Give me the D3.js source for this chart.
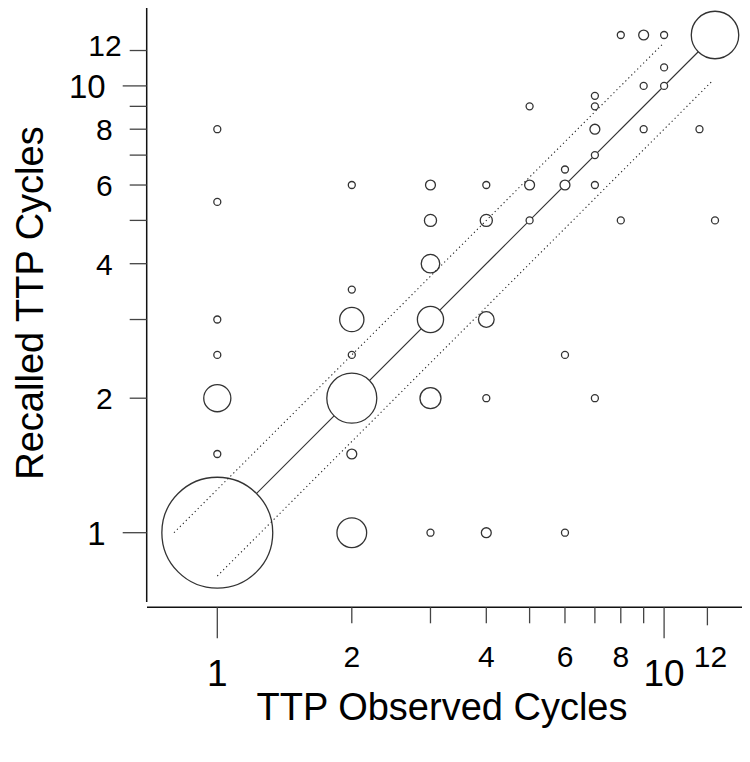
<!DOCTYPE html>
<html>
<head>
<meta charset="utf-8">
<script src="https://cdn.jsdelivr.net/npm/d3@7"></script>
<style>
  html, body { margin: 0; padding: 0; background: #fff; }
  svg { display: block; font-family: "Liberation Sans", Arial, sans-serif; }
</style>
</head>
<body>
<svg id="chart" width="750" height="762"></svg>
<script>
// ---- data ----
const observed = [1,1,1,1,1,1,1, 2,2,2,2,2,2,2, 3,3,3,3,3,3, 4,4,4,4,4, 5,5,5, 6,6,6,6, 7,7,7,7,7,7, 8,8, 9,9,9, 10,10,10, 12, 13,13];
const recalled = [1,1.5,2,2.5,3,5.5,8, 1,1.5,2,2.5,3,3.5,6, 1,2,3,4,5,6, 1,2,3,5,6, 5,6,9, 1,2.5,6,6.5, 2,6,7,8,9,9.5, 5,13, 8,10,13, 10,11,13, 8, 5,13];
const counts   = [251,1,15,1,1,1,1, 18,2,51,1,12,1,1, 1,9,14,7,3,2, 2,1,5,3,1, 1,2,1, 1,1,2,1, 1,1,1,2,1,1, 1,1, 1,1,2, 1,1,1, 1, 1,46];

const xTickValues = [1,2,3,4,5,6,7,8,9,10,12.5];
const xTickLabels = ["1","2","","4","","6","","8","","10","12"];
const yTickValues = [1,2,3,4,5,6,7,8,9,10,12];
const yTickLabels = ["1","2","","4","","6","","8","","10","12"];
const majorTicks = [1,10];

const identityLine = [[1,1],[13,13]];
const upperBand = [[0.8,1],[10,12.5]];
const lowerBand = [[1,0.8],[12.8,10.24]];

const xTitle = "TTP Observed Cycles";
const yTitle = "Recalled TTP Cycles";

// ---- layout ----
const svg = d3.select("#chart");
const perDoubling = 134.5;
const x = d3.scaleLog().domain([1, 13]).range([217.3, 217.3 + perDoubling * Math.log2(13)]);
const y = d3.scaleLog().domain([1, 13]).range([532.7, 532.7 - perDoubling * Math.log2(13)]);
const r = d3.scaleSqrt().domain([0, 1]).range([0, 3.5]);

const xAxisY = 607.3, xAxisX0 = 147, xAxisX1 = 742;
const yAxisX = 146.7, yAxisY0 = 8, yAxisY1 = 602;

// axes lines
svg.append("line").attr("x1", xAxisX0).attr("x2", xAxisX1).attr("y1", xAxisY).attr("y2", xAxisY)
  .attr("stroke", "#111").attr("stroke-width", 1.5);
svg.append("line").attr("x1", yAxisX).attr("x2", yAxisX).attr("y1", yAxisY0).attr("y2", yAxisY1)
  .attr("stroke", "#111").attr("stroke-width", 1.5);

// x ticks
const xt = svg.append("g");
xTickValues.forEach((v, i) => {
  const major = majorTicks.includes(v);
  const len = major ? 31 : (v > 11 ? 18 : 16);
  xt.append("line").attr("x1", x(v)).attr("x2", x(v)).attr("y1", xAxisY).attr("y2", xAxisY + len)
    .attr("stroke", "#444").attr("stroke-width", 1.3);
  if (xTickLabels[i]) {
    xt.append("text").attr("x", x(v) + (v > 11 ? 3 : 0))
      .attr("y", major ? 686 : 667)
      .attr("text-anchor", "middle")
      .attr("font-size", major ? 37 : 30)
      .attr("fill", "#000")
      .text(xTickLabels[i]);
  }
});

// y ticks
const yt = svg.append("g");
yTickValues.forEach((v, i) => {
  const major = majorTicks.includes(v);
  const len = major ? 24 : 17;
  yt.append("line").attr("x1", yAxisX - len).attr("x2", yAxisX).attr("y1", y(v)).attr("y2", y(v))
    .attr("stroke", "#444").attr("stroke-width", 1.3);
  if (yTickLabels[i]) {
    const special = v === 12;
    yt.append("text")
      .attr("x", yAxisX - len - (special ? 8 : 17))
      .attr("y", y(v) + (special ? -5 : 0))
      .attr("dy", "0.36em")
      .attr("text-anchor", "end")
      .attr("font-size", major ? 33 : 30)
      .attr("fill", "#000")
      .text(yTickLabels[i]);
  }
});

// identity line
const lineGen = d3.line().x(d => x(d[0])).y(d => y(d[1]));
svg.append("path").attr("d", lineGen(identityLine))
  .attr("fill", "none").attr("stroke", "#333").attr("stroke-width", 1.2);

// circles
const pts = observed.map((o, i) => ({ o, rc: recalled[i], n: counts[i] }))
  .sort((a, b) => b.n - a.n);
svg.append("g").selectAll("circle").data(pts).join("circle")
  .attr("cx", d => x(d.o))
  .attr("cy", d => y(d.rc))
  .attr("r", d => r(d.n))
  .attr("fill", "#fff")
  .attr("stroke", "#333")
  .attr("stroke-width", 1.3);

// dotted bands
[upperBand, lowerBand].forEach(b => {
  svg.append("path").attr("d", lineGen(b))
    .attr("fill", "none").attr("stroke", "#222").attr("stroke-width", 1.1)
    .attr("stroke-dasharray", "1.2,3");
});

// titles
svg.append("text").attr("x", 442).attr("y", 720).attr("text-anchor", "middle")
  .attr("font-size", 38).attr("fill", "#000").text(xTitle);
svg.append("text").attr("transform", "translate(43,303) rotate(-90)")
  .attr("text-anchor", "middle").attr("font-size", 38).attr("fill", "#000").text(yTitle);
</script>
</body>
</html>
